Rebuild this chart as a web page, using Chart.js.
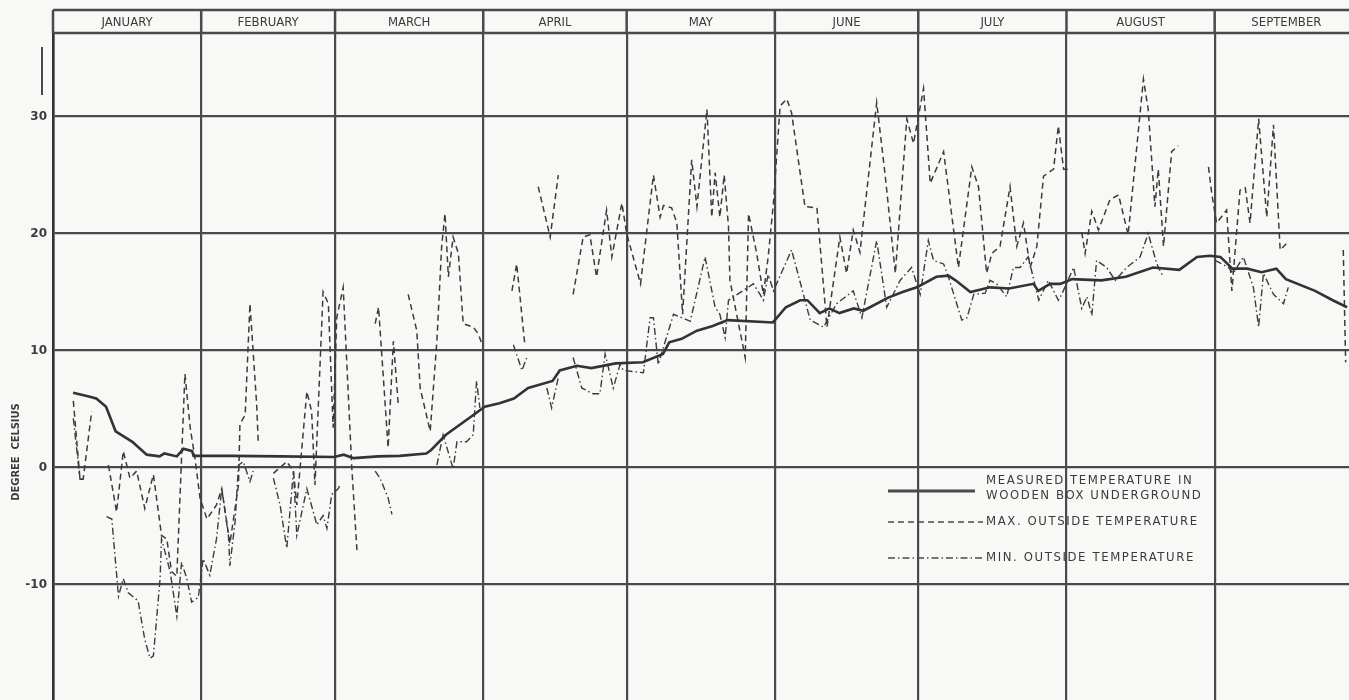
<!DOCTYPE html>
<html>
<head>
<meta charset="utf-8">
<script src="https://cdn.jsdelivr.net/npm/chart.js@4.4.0/dist/chart.umd.min.js"></script>
<style>
  html, body { margin: 0; padding: 0; background: #f8f8f6; }
  #wrap { width: 1349px; height: 700px; position: relative; }
</style>
</head>
<body>
<div id="wrap"><canvas id="chart"></canvas></div>
<script>
// month header and boundaries (day of year)
const months = ["JANUARY", "FEBRUARY", "MARCH", "APRIL", "MAY", "JUNE", "JULY", "AUGUST", "SEPTEMBER"];
const monthStartDays = [0, 31, 59, 90, 120, 151, 181, 212, 243, 273];
const yTicks = [-10, 0, 10, 20, 30];

// measured temperature in wooden box underground (solid)
const measuredDays = [4.2, 7.3, 9.05, 11.1, 13.1, 16.6, 19.6, 22.3, 23.3, 25.9, 27.3, 29.1, 29.4, 37.5, 47.6, 58.8, 60.8, 62.9, 68, 72.5,
  78.1, 79.1, 82.2, 88.3, 90.3, 93.4, 96.4, 99.4, 104.5, 106, 109.6, 112.6, 117.7, 123.4, 127.6, 128.9, 131.5, 134.7, 138, 141.1,
  150.6, 153.3, 156.3, 157.8, 160.4, 162.4, 164.5, 167.5, 169.5, 174.6, 177.7, 180.7, 184.8, 187.3, 188.8, 191.9, 196, 200, 205.1, 206.1,
  208.6, 210.7, 213.2, 219.3, 224.4, 230.1, 235.6, 239.3, 242, 244.2, 246.7, 249.8, 252.8, 255.9, 257.9, 264, 267.7, 270.7];
const measuredTemp = [6.4, 6.1, 5.9, 5.2, 3.1, 2.2, 1.1, 0.95, 1.2, 0.95, 1.6, 1.4, 1.0, 1.0, 0.95, 0.9, 1.1, 0.8, 0.95, 1.0,
  1.2, 1.5, 2.8, 4.6, 5.2, 5.5, 5.9, 6.8, 7.4, 8.3, 8.7, 8.5, 8.9, 9.0, 9.7, 10.7, 11.0, 11.7, 12.1, 12.6,
  12.4, 13.7, 14.3, 14.3, 13.2, 13.6, 13.2, 13.6, 13.4, 14.5, 15.0, 15.4, 16.3, 16.4, 16.0, 15.0, 15.4, 15.3, 15.7, 15.1,
  15.7, 15.7, 16.1, 16.0, 16.3, 17.1, 16.9, 18.0, 18.1, 18.0, 17.0, 17.0, 16.7, 17.0, 16.1, 15.1, 14.3, 13.7];

// max. outside temperature (dashed), null = no reading
const maxDays = [4.25, 5.65, 6.3, 8.1, 10, 11.6, 13.3, 14.7, 16.1, 17.5, 19.2, 21.0, 22.7, 23.8, 24.8, 25.9, 27.6, 28.7, 29.7, 30.75,
  32.2, 34.2, 35.3, 37.0, 38.8, 39.1, 40.2, 41.2, 42.6, 42.95, 44, 46.1, 48.9, 50.3, 51.0, 53.1, 54.1, 54.8, 56.5, 57.6,
  58.6, 59.35, 60.7, 62.5, 63.6, 65, 67.4, 68.1, 70.1, 71.2, 72.2, 73.3, 74.3, 76.1, 76.8, 78.9, 80.3, 81.3, 82.0, 82.7,
  83.7, 84.8, 85.8, 87.9, 89.0, 89.75, 93, 96.0, 97.0, 98.7, 100, 101.5, 104.0, 105.7, 107, 108.8, 110.9, 112.3, 113.7, 115.8,
  116.9, 119.0, 120.0, 122.9, 125.6, 127.0, 127.7, 129.4, 130.5, 131.7, 133.6, 134.7, 136.8, 137.8, 138.5, 139.5, 140.4, 141.3, 141.6, 144.8,
  145.5, 147.2, 148.6, 149.6, 150.7, 152.1, 153.5, 154.5, 157.3, 159.8, 161.9, 164.6, 166.0, 167.4, 168.8, 172.3, 174.1, 176.2, 178.6, 180.0,
  182.1, 183.5, 186.3, 189.4, 192.2, 193.6, 195.3, 196.4, 198.1, 200.2, 201.6, 203.0, 204.4, 205.8, 207.2, 209.3, 210.3, 211.4, 213.1, 214,
  215.2, 215.9, 217.3, 218.7, 221.1, 222.9, 224.9, 228.1, 229.1, 230.5, 231.2, 232.3, 234.0, 235.4, 238, 241.7, 242.4, 243.4, 245.5, 246.6,
  248.3, 249.4, 250.4, 252.2, 253.9, 255.3, 256.7, 258.4, 264, 269.9, 270.4];
const maxTemp = [5.7, -1.0, -1.0, 4.8, null, 0.2, -3.8, 1.4, -0.9, -0.3, -3.5, -0.6, -5.8, -6.1, -8.9, -9.3, 8.0, 3.4, 0.8, -2.6,
  -4.4, -3.2, -1.8, -6.5, -1.5, 3.7, 4.5, 14.0, 5.4, 2.0, null, -0.5, 0.5, -0.3, -3.2, 6.5, 4.8, -1.5, 15.0, 14.0,
  3.4, 12.8, 15.4, 0, -7.2, null, 12.3, 13.7, 1.7, 10.8, 5.5, null, 14.8, 11.7, 6.8, 3.1, 10.8, 18.9, 21.7, 16.3,
  19.7, 18.3, 12.3, 12.0, 11.4, 10.5, null, 15.1, 17.4, 10.5, null, 24.0, 19.7, 25.0, null, 14.8, 19.7, 19.9, 16.3, 22.0,
  18.0, 22.6, 20.0, 15.7, 25.0, 21.4, 22.4, 22.2, 20.9, 13.1, 26.3, 22.3, 30.6, 21.4, 25.2, 21.4, 25.0, 20.6, 16.0, 9.4,
  21.7, 18.3, 14.8, 18.0, 22.6, 30.9, 31.5, 30.3, 22.3, 22.2, 12.0, 19.7, 16.6, 20.3, 18.4, 31.2, 24.9, 16.6, 29.8, 27.7,
  32.4, 24.3, 27.0, 17.1, 25.7, 24.0, 16.6, 18.3, 18.9, 24.0, 18.9, 20.9, 17.1, 18.9, 24.9, 25.5, 29.2, 25.5, 25.5, null,
  20.1, 18.3, 21.9, 20.3, 22.9, 23.3, 19.9, 33.2, 30.6, 22.3, 25.5, 18.9, 27.0, 27.5, null, 25.7, 23.4, 20.9, 22.0, 15.1,
  23.7, 23.9, 20.9, 29.8, 21.4, 29.3, 18.6, 19.3, null, 18.6, 9.0];

// min. outside temperature (dash-dot), null = no reading
const minDays = [4.25, 5.65, 6.3, 9, 11.2, 12.3, 13.7, 14.7, 15.75, 17.8, 19.2, 20.3, 21.0, 22.4, 22.7, 23.8, 24.5, 25.9, 26.9, 28.0,
  29.0, 30.4, 31.4, 32.8, 34.2, 35.3, 36.7, 37.0, 38.1, 38.8, 39.8, 41.2, 41.9, 44, 46.1, 47.5, 48.9, 50.3, 51.0, 53.1,
  55.2, 56.5, 57.3, 58.3, 59.7, 60.0, 63, 67.4, 68.4, 70.1, 70.9, 75, 80.3, 81.6, 83.7, 84.5, 86.5, 87.9, 88.6, 89.3,
  93, 96.3, 98.1, 99.1, 101, 103.3, 104.3, 105.7, 107, 108.8, 110.6, 113.0, 114.4, 115.5, 117.2, 118.6, 119.3, 123.5, 124.9, 125.6,
  126.6, 129.8, 133.3, 136.4, 138.5, 139.5, 140.6, 141.3, 146.5, 147.9, 148.6, 149.6, 150.7, 154.5, 158.4, 161.2, 163.9, 167.4, 169.2, 172.3,
  174.4, 177.2, 179.6, 181.4, 183.1, 184.2, 186.3, 187.3, 190.1, 191.2, 192.6, 195.0, 196.0, 197.4, 199.5, 200.9, 202.3, 204.0, 206.2, 208.2,
  210.3, 211.0, 213.5, 215.2, 216.3, 217.3, 218.3, 220.4, 222.2, 224.6, 227.4, 229.1, 230.9, 232.2, 237, 243.1, 245.9, 246.9, 249.0, 251.1,
  252.2, 253.2, 255.3, 257.4, 258.4];
const minTemp = [4.2, -1.0, -1.0, null, -4.2, -4.4, -11.0, -9.5, -10.7, -11.4, -14.7, -16.3, -16.1, -9.5, -6.1, -7.8, -8.9, -12.7, -8.1, -9.5,
  -11.5, -11.1, -7.8, -9.2, -6.1, -1.8, -5.8, -8.4, -4.6, 0.2, 0.5, -1.2, -0.3, null, -0.9, -3.2, -6.9, -0.3, -5.8, -1.8,
  -4.9, -4.1, -5.2, -2.3, -1.8, -1.5, null, -0.3, -0.9, -2.6, -4.0, null, 0.2, 2.8, -0.1, 2.2, 2.2, 2.8, 7.4, 5.1,
  null, 10.5, 8.3, 9.4, null, 6.8, 5.1, 7.7, null, 9.4, 6.8, 6.3, 6.3, 9.7, 6.8, 8.8, 8.3, 8.1, 12.8, 12.8,
  8.8, 13.1, 12.5, 18.0, 13.7, 13.1, 11.1, 14.3, 15.7, 14.8, 14.3, 16.5, 15.1, 18.6, 12.6, 12.0, 14.0, 15.1, 12.8, 19.4,
  13.7, 16.0, 17.1, 14.8, 19.4, 17.7, 17.4, 16.3, 12.6, 12.8, 14.8, 14.9, 16.0, 15.7, 14.6, 17.1, 17.1, 18.0, 14.3, 16.0,
  14.3, 14.8, 17.1, 13.6, 14.6, 13.0, 17.7, 17.1, 16.0, 17.1, 18.0, 20.0, 17.4, 16.3, null, 17.7, 17.1, 16.6, 18.0, 15.4,
  12.0, 16.6, 14.8, 14.0, 15.4];

const legendLabels = [
    ["MEASURED TEMPERATURE IN", "WOODEN BOX UNDERGROUND"],
    ["MAX. OUTSIDE TEMPERATURE"],
    ["MIN. OUTSIDE TEMPERATURE"]
];

const ink = "#3b3b3b";
const gridInk = "#4a4a4a";
const toPoints = (days, temps) => days.map((d, i) => ({ x: d, y: temps[i] }));

// header row, axis title, arrow and in-plot legend, like the paper drawing
const paperPlugin = {
    id: "paper",
    beforeDraw(chart) {
        const ctx = chart.ctx;
        ctx.save();
        ctx.fillStyle = "#f8f8f6";
        ctx.fillRect(0, 0, chart.width, chart.height);
        ctx.restore();
    },
    afterDraw(chart) {
        const ctx = chart.ctx;
        const area = chart.chartArea;
        const xs = chart.scales.x;
        const headTop = 10;
        ctx.save();
        ctx.strokeStyle = gridInk;
        ctx.lineWidth = 2.5;
        ctx.beginPath();
        ctx.moveTo(area.left, headTop); ctx.lineTo(area.right, headTop);
        ctx.moveTo(area.left, area.top); ctx.lineTo(area.right, area.top);
        monthStartDays.forEach(d => {
            if (d > xs.max) return;
            const px = xs.getPixelForValue(d);
            ctx.moveTo(px, headTop); ctx.lineTo(px, area.top);
        });
        ctx.stroke();

        ctx.fillStyle = ink;
        ctx.font = "13px 'DejaVu Sans Condensed', 'DejaVu Sans'";
        ctx.textAlign = "center";
        ctx.textBaseline = "middle";
        months.forEach((m, i) => {
            const mid = (monthStartDays[i] + monthStartDays[i + 1]) / 2;
            ctx.fillText(m, xs.getPixelForValue(mid), (headTop + area.top) / 2 + 1);
        });

        // axis title
        ctx.save();
        ctx.translate(16, 452);
        ctx.rotate(-Math.PI / 2);
        ctx.font = "bold 11px 'DejaVu Sans Condensed', 'DejaVu Sans'";
        ctx.fillText("DEGREE  CELSIUS", 0, 0);
        ctx.restore();

        // little arrow at top of the axis
        ctx.lineWidth = 2;
        ctx.beginPath();
        ctx.moveTo(42, 95); ctx.lineTo(42, 47);
        ctx.stroke();

        // legend
        const lx0 = 888, lx1 = 983, tx = 986;
        ctx.textAlign = "left";
        ctx.font = "13px 'DejaVu Sans Condensed', 'DejaVu Sans'";
        ctx.letterSpacing = "1.6px";
        const rows = [
            { y: 491, dash: [], w: 3, x1: 975, textY: [481, 496] },
            { y: 522, dash: [6, 4], w: 1.5, x1: lx1, textY: [522] },
            { y: 558, dash: [7, 3, 1.5, 3], w: 1.5, x1: lx1, textY: [558] }
        ];
        rows.forEach((r, i) => {
            ctx.setLineDash(r.dash);
            ctx.lineWidth = r.w;
            ctx.beginPath();
            ctx.moveTo(lx0, r.y); ctx.lineTo(r.x1, r.y);
            ctx.stroke();
            ctx.setLineDash([]);
            legendLabels[i].forEach((t, k) => ctx.fillText(t, tx, r.textY[k]));
        });
        ctx.restore();
    }
};

new Chart(document.getElementById("chart").getContext("2d"), {
    type: "line",
    data: {
        datasets: [
            { label: "Measured", data: toPoints(measuredDays, measuredTemp), borderColor: "#333", borderWidth: 2.6 },
            { label: "Max", data: toPoints(maxDays, maxTemp), borderColor: ink, borderWidth: 1.5, borderDash: [6, 4] },
            { label: "Min", data: toPoints(minDays, minTemp), borderColor: ink, borderWidth: 1.4, borderDash: [7, 3, 1.5, 3] }
        ]
    },
    options: {
        responsive: true,
        maintainAspectRatio: false,
        animation: false,
        spanGaps: false,
        elements: { point: { radius: 0 }, line: { tension: 0 } },
        layout: { padding: { top: 33, left: 0, right: 0, bottom: 0 } },
        plugins: { legend: { display: false }, tooltip: { enabled: false } },
        scales: {
            x: {
                type: "linear",
                min: 0,
                max: 271.1,
                afterBuildTicks: s => { s.ticks = monthStartDays.filter(d => d <= 271.1).map(v => ({ value: v })); },
                afterFit: s => { s.height = 0; s.paddingLeft = 0; s.paddingRight = 0; },
                ticks: { display: false, padding: 0 },
                grid: { color: gridInk, lineWidth: 2.2, drawTicks: false },
                border: { display: false }
            },
            y: {
                min: -19.87,
                max: 37.14,
                afterBuildTicks: s => { s.ticks = yTicks.map(v => ({ value: v })); },
                afterFit: s => { s.width = 53; s.paddingTop = 0; s.paddingBottom = 0; },
                ticks: {
                    color: ink,
                    padding: 6,
                    font: { family: "'DejaVu Sans'", size: 12, weight: "bold" },
                    callback: v => String(v)
                },
                grid: { color: gridInk, lineWidth: 2.2, drawTicks: false },
                border: { display: true, color: "#333", width: 2.6 }
            }
        }
    },
    plugins: [paperPlugin]
});
</script>
</body>
</html>
